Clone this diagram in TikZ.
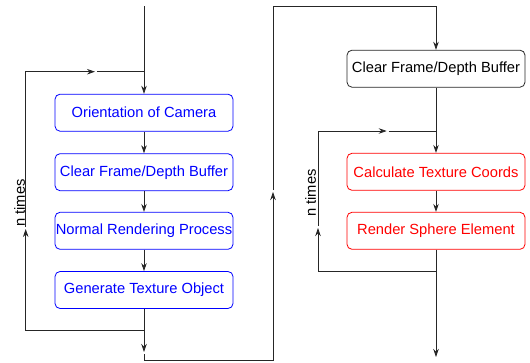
\documentclass[tikz,border=0pt]{standalone}
\usepackage{fontspec}
\setmainfont{Liberation Sans}
\usetikzlibrary{arrows.meta}
\begin{document}
\begin{tikzpicture}[x=1pt,y=-1pt,line cap=butt,line join=miter,
	line width=0.8pt,color=black!85,
	>={Stealth[length=8pt,width=5.5pt]},
	stage/.style={draw,rounded corners=5pt,minimum width=178pt,minimum height=37pt,
		inner sep=0pt,font=\fontsize{14.7}{17}\selectfont},
	loop/.style={rotate=90,font=\fontsize{14.7}{17}\selectfont,text=black}]
\useasboundingbox (0,0) rectangle (530,362);
% first pass: render the scene into a texture
\node[stage,draw=blue,text=blue] (cam) at (144,112.7) {Orientation of Camera};
\node[stage,draw=blue,text=blue] (clr) at (144,172.2) {Clear Frame/Depth Buffer};
\node[stage,draw=blue,text=blue] (rnd) at (144,230.8) {Normal Rendering Process};
\node[stage,draw=blue,text=blue] (gen) at (144,290) {Generate Texture Object};
% second pass: map it onto the sphere
\node[stage,text=black] (clr2) at (436,68.7) {Clear Frame/Depth Buffer};
\node[stage,draw=red,text=red] (tex) at (436,171.8) {Calculate Texture Coords};
\node[stage,draw=red,text=red] (sph) at (436,230.8) {Render Sphere Element};
\node[loop] (nl) at (19.5,203) {n times};
\node[loop] (nr) at (310.5,193) {n times};
\coordinate (in) at (144,6);
\coordinate (lsplit) at (144,71.7);
\coordinate (larr) at (95,71.7);
\coordinate (ltop) at (25.7,71.7);
\coordinate (lup) at (25.7,229);
\coordinate (lbot) at (25.7,330.7);
\coordinate (lmerge) at (144,330.7);
\coordinate (lout) at (144,352);
\coordinate (lcorner) at (144,360);
\coordinate (mbot) at (273,360);
\coordinate (mup) at (273,192);
\coordinate (mtop) at (273,6);
\coordinate (rtop) at (436,6);
\coordinate (rsplit) at (436,131);
\coordinate (rarr) at (386.7,131);
\coordinate (rtopl) at (318,131);
\coordinate (rup) at (318,228);
\coordinate (rbot) at (318,271.7);
\coordinate (rmerge) at (436,271.7);
\coordinate (out) at (436,357);
% left column
\draw[->] (in) -- (cam);
\draw[->] (cam) -- (clr);
\draw[->] (clr) -- (rnd);
\draw[->] (rnd) -- (gen);
\draw (gen) -- (lmerge) -- (lbot);
\draw[->] (lbot) -- (lup);
\draw[->,shorten <=2pt] (lup) -- (ltop) -- (larr);
\draw[shorten <=2pt] (larr) -- (lsplit);
\draw[->] (lmerge) -- (lout);
% over to the second pass
\draw[->,shorten <=2pt] (lout) -- (lcorner) -- (mbot) -- (mup);
\draw[->,shorten <=2pt] (mup) -- (mtop) -- (rtop) -- (clr2);
% right column
\draw[->] (clr2) -- (tex);
\draw[->] (tex) -- (sph);
\draw (sph) -- (rmerge) -- (rbot);
\draw[->] (rbot) -- (rup);
\draw[->,shorten <=2pt] (rup) -- (rtopl) -- (rarr);
\draw[shorten <=2pt] (rarr) -- (rsplit);
\draw[->] (rmerge) -- (out);
\end{tikzpicture}
\end{document}
